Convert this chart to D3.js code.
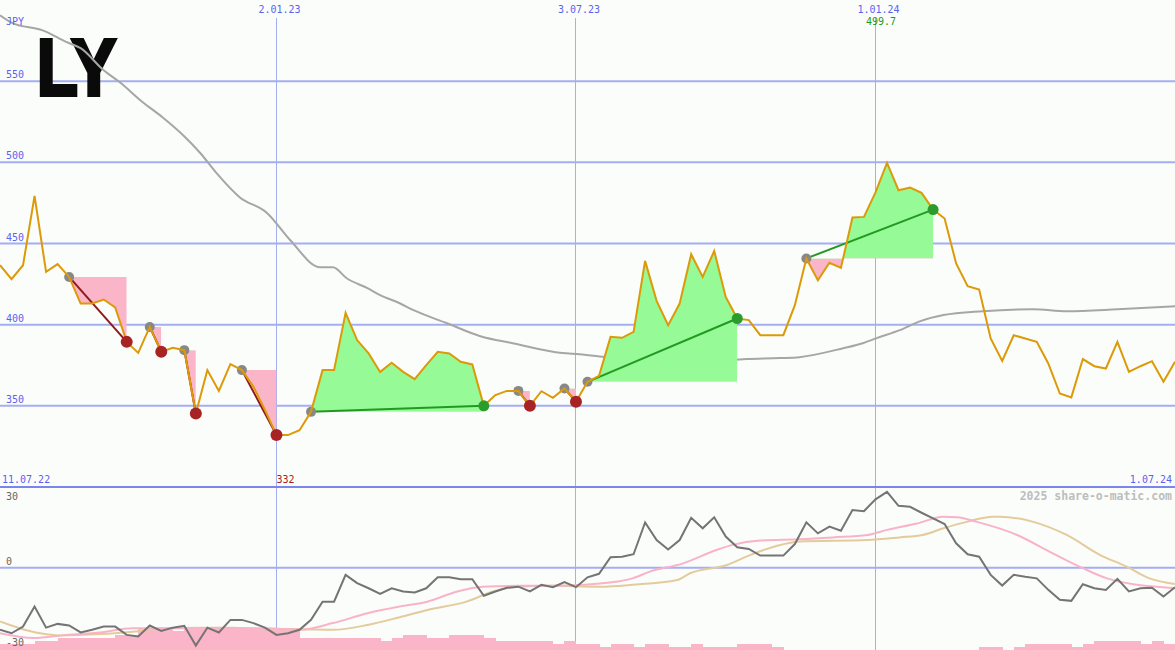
<!DOCTYPE html>
<html><head><meta charset="utf-8">
<script src="https://cdn.jsdelivr.net/npm/d3@7"></script>
<style>
html,body{margin:0;padding:0;background:#fbfdfb;}
svg{display:block;}
text{font-family:"DejaVu Sans Mono",monospace;}
</style></head><body>
<svg id="chart" width="1175" height="650"></svg>
<script>
// ---------- DATA ----------
const firstWeek = [2022, 6, 18];           // weekly closes start (UTC y, m, d)
const lastWeekIndex = 102;
const price = [436.6,428,436.6,479.3,432.5,437.3,429.4,413,413,415.5,410.6,389.4,382.6,398.6,383.3,385.7,384.3,345.3,372,359.2,
  375.7,372,361.7,347.4,332,332,335,346.3,372,372,407.3,390.5,382.3,370.9,376.5,370.9,366.4,375.1,383.3,382.3,
  377.1,375.5,350,356.6,359.2,359.2,350,359,354.9,360.7,352.5,364.8,368.5,392.5,391.9,395.6,439.3,414.7,399.7,413,
  443.4,429.4,445.4,417.1,403.8,402.8,393.5,393.5,393.5,412,440.8,427.4,438.1,435,466,466.4,481.5,499.7,482.8,484.5,
  481.2,470.9,465.4,437.7,423.7,421.7,391.5,377.7,393.5,391.5,389.4,376.1,357.6,355.2,378.8,374.4,373,389.4,370.9,374.4,
  377.5,364.8,377.1];
const priceMaWeeks = [0,1.1,3.7,5.8,7,9,10.4,12.4,14.1,15.9,17.4,18.8,20.8,23.2,25.2,27.8,28.9,30.1,31.9,33,34.7,35.9,38.8,41.7,44.5,48.8,50.3,52.7,55.6,57.6,59.6,61.9,64.8,67.7,69.4,73.2,74.9,76.1,78.1,79.9,81.9,85.3,89.7,92.6,97,102];
const priceMaValues = [590.6,585.7,581.3,574,570.3,556.7,549.3,537,527.8,516.7,505.6,493.3,478.5,468.7,452,435.4,435.4,428.6,422.5,418.2,413.2,408.9,400.9,392.9,388.6,382.5,381.8,380,378.1,376.3,376.9,377.5,378.8,379.4,380,385.5,388.6,391.7,396.6,402.2,405.9,408.3,409.5,408.3,409.5,411.4];
const oscValues = [-23.2,-24.5,-22,-14.5,-22.4,-21,-21.6,-24.2,-23.2,-22,-22,-25.1,-25.7,-21.6,-23.6,-22.4,-21.7,-29.1,-22.4,-24.2,
  -19.5,-19.5,-20.7,-22.4,-25.1,-24.5,-23.2,-19.5,-12.7,-12.7,-2.7,-5.8,-7.7,-9.8,-7.7,-8.9,-9.3,-7.7,-3.6,-3.6,
  -4.3,-4.3,-10.5,-8.9,-7.5,-7.1,-8.9,-6.4,-7.3,-5.4,-7.3,-3.6,-2.3,3.9,4.1,5,16.9,10.3,6.8,10.3,
  18.6,14.7,18.8,11.6,7.6,7,4.5,4.5,4.5,8.8,16.9,12.8,15.3,13.8,21.5,21.1,25.5,28.3,23.1,22.7,
  20.5,18.4,16.3,9.1,5,4.1,-2.7,-6.7,-2.7,-3.4,-4,-8.3,-12,-12.4,-6.2,-7.7,-8.3,-4.2,-8.9,-7.7,
  -7.5,-10.8,-7.3];
const oscFastWeeks = [0,2.9,5.8,8.7,11.5,14.5,17.4,20.2,23.2,26,28.9,31.9,34.7,37.1,39.7,41.9,44.9,47.7,50.6,53.6,54.9,56.4,59.3,62.2,63.6,66,69.4,72.3,75.3,77,79.6,81.9,83.1,84.8,88.3,91.1,94,96.1,98.4,100.4,102];
const oscFastValues = [-24.5,-26.3,-25.1,-24.2,-22.6,-22.6,-22.6,-22.6,-22.6,-23.2,-20.7,-17,-14.5,-12.7,-8.9,-7.1,-6.8,-6.8,-6.4,-5.2,-4,-1.5,1.6,6.6,8.5,10.1,10.6,11.3,12.2,14.1,16.5,19,18.8,17.1,12.2,6,-0.2,-4,-6.2,-7.1,-7.7];
const oscSlowWeeks = [0,1.7,3.5,5.2,8.7,11.5,14.5,17.4,20.2,23.2,26,28.9,31.9,34.7,37.1,40.5,42.8,44.9,47.7,52.1,54.9,58.8,59.9,63.1,65.1,67.4,69.4,75.3,78.1,80.1,81.9,83.9,86.2,86.8,89.7,92.6,95.5,97.8,99.8,102];
const oscSlowValues = [-20.1,-22.6,-24.5,-25.3,-24.8,-23.9,-22.6,-22.4,-22.4,-23,-23,-23.2,-21.4,-18.5,-15.8,-12.7,-8.9,-7.1,-6.8,-7.1,-6.4,-4.6,-2.1,1,4.7,8.1,9.8,10.3,11.3,12.2,14.7,17.1,19,19,17.1,12.2,4.7,0.4,-4,-6.1];
const volumeLevels = [2,2,2,3,3,4,4,4,4,4,5,5,7.4,7.4,7.4,6.5,7.4,7.4,7.4,7.4,7,7,7,7.4,7.4,7.4,4,4,4,4,
  4,4,4,3,4,5,5,4,4,5,5,5,4,3,3,3,3,3,2,3,2,2,1,2,2,1,2,2,1,1,
  2,1,1,1,2,2,2,1,0,0,0,0,0,0,0,0,0,0,0,0,0,0,0,0,0,1,1,0,1,2,
  2,2,2,1,2,3,3,3,3,2,3,2,2];
const sellSignals = [[6,11],[13,14],[16,17],[21,24],[45,46],[49,50]];
const buySignals = [[27,42],[51,64],[70,81]];
const priceTicks = [350,400,450,500,550];
const oscTicks = [30,0,-30];
const dateTicks = [[2023,0,2],[2023,6,3],[2024,0,1]];
const dateTickLabels = ["2.01.23","3.07.23","1.01.24"];
const rangeLabels = ["11.07.22","1.07.24"];
const currency = "JPY";
const logoText = "LY";
const credit = "2025 share-o-matic.com";

// ---------- SETUP ----------
const W = 1175, H = 650;
const DAY = 864e5;
const t0 = Date.UTC(...firstWeek);
const weekDate = w => new Date(t0 + w * 7 * DAY);
const svg = d3.select("#chart");

const x = d3.scaleUtc().domain([weekDate(0), weekDate(lastWeekIndex)]).range([0, W]);
const y = d3.scaleLinear().domain([300, 600]).range([487, 0]);
const yo = d3.scaleLinear().domain([-30, 30]).range([648, 487.3]);
const yv = d3.scaleLinear().domain([0, 10]).range([H, H - 30]);
const xw = w => x(weekDate(w));

const C = {
  grid: "#a4aef2", sep: "#7a86ee", blue: "#5864f0", orange: "#dc9a08", ma: "#a6a6a6",
  pink: "#fbb5c9", green: "#96fa96", sellLine: "#8e1b1b", buyLine: "#229a22",
  redDot: "#a82424", greenDot: "#2b9b2b", greyDot: "#888888",
  osc: "#747474", oscFast: "#f9b3c8", oscSlow: "#e3cb9c"
};

// background
svg.append("rect").attr("width", W).attr("height", H).attr("fill", "#fbfdfb");

// ---------- GRID ----------
const grid = svg.append("g");
grid.selectAll("line.h").data(priceTicks).join("line")
  .attr("x1", 0).attr("x2", W).attr("y1", d => y(d)).attr("y2", d => y(d))
  .attr("stroke", C.grid).attr("stroke-width", 2);
grid.selectAll("line.v").data(dateTicks).join("line")
  .attr("x1", d => x(new Date(Date.UTC(...d)))).attr("x2", d => x(new Date(Date.UTC(...d))))
  .attr("y1", 18).attr("y2", H)
  .attr("stroke", C.grid).attr("stroke-width", 1).attr("shape-rendering", "crispEdges");
grid.append("line").attr("x1", 0).attr("x2", W).attr("y1", yo(0)).attr("y2", yo(0))
  .attr("stroke", C.grid).attr("stroke-width", 2);
grid.append("line").attr("x1", 0).attr("x2", W).attr("y1", y(300)).attr("y2", y(300))
  .attr("stroke", C.sep).attr("stroke-width", 2);

// ---------- LOGO ----------
svg.append("text").text(logoText)
  .attr("x", 37).attr("y", 94.5)
  .attr("textLength", 79).attr("lengthAdjust", "spacingAndGlyphs")
  .style("font-family", "'Liberation Sans', Arial, sans-serif")
  .style("font-weight", "bold").style("font-size", "80px")
  .attr("fill", "#0a0a0a").attr("stroke", "#0a0a0a").attr("stroke-width", 4)
  .attr("stroke-linejoin", "miter");

// ---------- LOWER PANEL ----------
svg.append("g").selectAll("rect").data(volumeLevels).join("rect")
  .attr("x", (d, i) => xw(i)).attr("width", (d, i) => xw(i + 1) - xw(i) + 0.5)
  .attr("y", d => yv(d)).attr("height", d => H - yv(d))
  .attr("fill", C.pink).attr("shape-rendering", "crispEdges");

const oscSlowLine = d3.line().x((d, i) => xw(oscSlowWeeks[i])).y(d => yo(d)).curve(d3.curveMonotoneX);
const oscFastLine = d3.line().x((d, i) => xw(oscFastWeeks[i])).y(d => yo(d)).curve(d3.curveMonotoneX);
const oscLine = d3.line().x((d, i) => xw(i)).y(d => yo(d));
svg.append("path").attr("d", oscSlowLine(oscSlowValues)).attr("fill", "none").attr("stroke", C.oscSlow).attr("stroke-width", 2);
svg.append("path").attr("d", oscFastLine(oscFastValues)).attr("fill", "none").attr("stroke", C.oscFast).attr("stroke-width", 2);
svg.append("path").attr("d", oscLine(oscValues)).attr("fill", "none").attr("stroke", C.osc).attr("stroke-width", 2);

// ---------- PRICE PANEL ----------
const maLine = d3.line().x((d, i) => xw(priceMaWeeks[i])).y(d => y(d)).curve(d3.curveMonotoneX);
svg.append("path").attr("d", maLine(priceMaValues)).attr("fill", "none").attr("stroke", C.ma).attr("stroke-width", 2);

const defs = svg.append("defs");
const signals = sellSignals.map(s => ({ s: s[0], e: s[1], type: "sell" }))
  .concat(buySignals.map(s => ({ s: s[0], e: s[1], type: "buy" })));
signals.forEach((sg, k) => {
  const lvl = price[sg.s];
  const idx = d3.range(sg.s, sg.e + 1);
  const area = d3.area().x(i => xw(i)).y0(y(lvl)).y1(i => y(price[i]));
  defs.append("clipPath").attr("id", "up" + k).append("rect")
    .attr("x", xw(sg.s)).attr("width", xw(sg.e) - xw(sg.s)).attr("y", 0).attr("height", y(lvl));
  defs.append("clipPath").attr("id", "dn" + k).append("rect")
    .attr("x", xw(sg.s)).attr("width", xw(sg.e) - xw(sg.s)).attr("y", y(lvl)).attr("height", y(300) - y(lvl));
  svg.append("path").attr("d", area(idx)).attr("fill", C.green).attr("clip-path", `url(#up${k})`);
  svg.append("path").attr("d", area(idx)).attr("fill", C.pink).attr("clip-path", `url(#dn${k})`);
});
signals.forEach(sg => {
  svg.append("line")
    .attr("x1", xw(sg.s)).attr("y1", y(price[sg.s])).attr("x2", xw(sg.e)).attr("y2", y(price[sg.e]))
    .attr("stroke", sg.type === "buy" ? C.buyLine : C.sellLine).attr("stroke-width", 2);
});
svg.append("g").selectAll("circle").data(signals).join("circle")
  .attr("cx", d => xw(d.s)).attr("cy", d => y(price[d.s])).attr("r", 5).attr("fill", C.greyDot);

const priceLine = d3.line().x((d, i) => xw(i)).y(d => y(d));
svg.append("path").attr("d", priceLine(price)).attr("fill", "none").attr("stroke", C.orange).attr("stroke-width", 2);

svg.append("g").selectAll("circle").data(signals).join("circle")
  .attr("cx", d => xw(d.e)).attr("cy", d => y(price[d.e]))
  .attr("r", d => d.type === "buy" ? 5.5 : 6)
  .attr("fill", d => d.type === "buy" ? C.greenDot : C.redDot);

// ---------- TEXT ----------
const tx = svg.append("g").style("font-size", "10px");
tx.selectAll("text.p").data(priceTicks).join("text")
  .attr("x", 6).attr("y", d => y(d) - 3).text(d => d).attr("fill", C.blue);
tx.append("text").attr("x", 6).attr("y", 25).text(currency).attr("fill", C.blue);
tx.selectAll("text.d").data(dateTicks).join("text")
  .attr("x", d => x(new Date(Date.UTC(...d))) + 3).attr("y", 13).attr("text-anchor", "middle")
  .text((d, i) => dateTickLabels[i]).attr("fill", C.blue);
tx.append("text").attr("x", 2).attr("y", 483).text(rangeLabels[0]).attr("fill", C.blue);
tx.append("text").attr("x", 1172).attr("y", 483).attr("text-anchor", "end").text(rangeLabels[1]).attr("fill", C.blue);

const maxI = d3.maxIndex(price), minI = d3.minIndex(price);
tx.append("text").attr("x", xw(maxI) - 6).attr("y", 25).attr("text-anchor", "middle")
  .text(d3.format(".1f")(price[maxI])).attr("fill", C.buyLine);
tx.append("text").attr("x", xw(minI)).attr("y", 483)
  .text(d3.format("d")(price[minI])).attr("fill", "#a82020");

tx.selectAll("text.o").data(oscTicks).join("text")
  .attr("x", 6).attr("y", d => yo(d) - 2 < 492 ? yo(d) + 13 : yo(d) - 2.5)
  .text(d => d).attr("fill", "#666");

svg.append("text").attr("x", 1172).attr("y", 500).attr("text-anchor", "end")
  .style("font-size", "11.5px").style("font-weight", "bold").attr("fill", "#bdbdbd").text(credit);
</script>
</body></html>
